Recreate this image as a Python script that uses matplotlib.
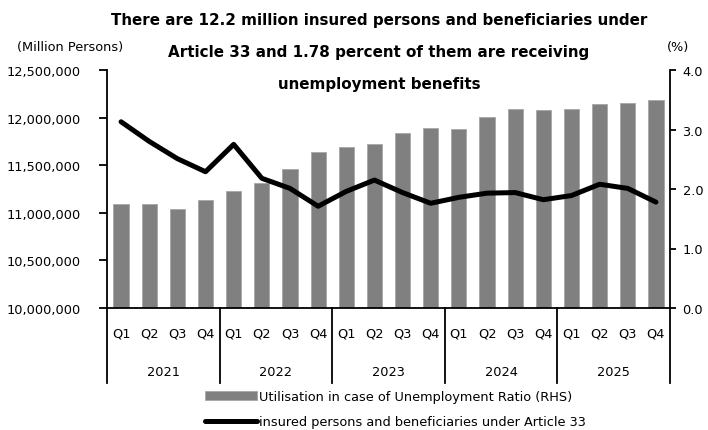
import matplotlib
matplotlib.use("Agg")
import matplotlib.pyplot as plt
from matplotlib.patches import Patch
from matplotlib.lines import Line2D
from matplotlib.transforms import blended_transform_factory

# --- data ---
years = ["2021", "2022", "2023", "2024", "2025"]
quarters = ["Q1", "Q2", "Q3", "Q4"]

insured = [11090000, 11095000, 11035000, 11135000,
           11232000, 11312000, 11460000, 11638000,
           11687000, 11726000, 11838000, 11888000,
           11880000, 12006000, 12094000, 12080000,
           12094000, 12144000, 12158000, 12182000]

ratio = [3.13, 2.80, 2.51, 2.29,
         2.75, 2.18, 2.01, 1.71,
         1.96, 2.15, 1.94, 1.76,
         1.86, 1.93, 1.94, 1.82,
         1.89, 2.08, 2.01, 1.78]

left_ticks = [10000000, 10500000, 11000000, 11500000, 12000000, 12500000]
right_ticks = [0.0, 1.0, 2.0, 3.0, 4.0]

title_lines = ["There are 12.2 million insured persons and beneficiaries under",
               "Article 33 and 1.78 percent of them are receiving",
               "unemployment benefits"]
bar_label = "Utilisation in case of Unemployment Ratio (RHS)"
line_label = "insured persons and beneficiaries under Article 33"

plt.rcParams["font.family"] = "DejaVu Sans"
W, H = 708, 431
fig = plt.figure(figsize=(W / 100, H / 100), dpi=100)

x0, x1, y0, y1 = 107, 670, 71, 309
ax = fig.add_axes([x0 / W, 1 - y1 / H, (x1 - x0) / W, (y1 - y0) / H])
ax2 = ax.twinx()

n = len(insured)
xs = list(range(n))

ax.bar(xs, insured, width=0.54, color="#808080", edgecolor="#a6a6a6",
       linewidth=0.6, zorder=2)
ax2.plot(xs, ratio, color="black", linewidth=3.6, solid_capstyle="round",
         solid_joinstyle="round", zorder=3)

ax.set_xlim(-0.5, n - 0.5)
ax.set_ylim(left_ticks[0], left_ticks[-1])
ax.set_yticks(left_ticks)
ax.set_yticklabels([f"{v:,}" for v in left_ticks])
ax2.set_ylim(right_ticks[0], right_ticks[-1])
ax2.set_yticks(right_ticks)
ax2.set_yticklabels([f"{v:.1f}" for v in right_ticks])

for a in (ax, ax2):
    a.spines["top"].set_visible(False)
    for s in a.spines.values():
        s.set_linewidth(1.3)
ax.tick_params(axis="y", length=6, width=1.3, labelsize=9.3, pad=13)
ax2.tick_params(axis="y", length=4, width=1.3, labelsize=9.3, pad=5)
ax.spines["right"].set_visible(False)
ax2.spines["left"].set_visible(False)
ax2.spines["bottom"].set_visible(False)
ax.set_xticks([])

# multi-level category axis
trans = blended_transform_factory(ax.transData, ax.transAxes)
depth = (384 - y1) / (y1 - y0)
for g in range(len(years) + 1):
    xb = g * len(quarters) - 0.5
    ax.plot([xb, xb], [0, -depth], color="black", linewidth=1.3,
            transform=trans, clip_on=False)
q_y = -(334 - y1) / (y1 - y0)
yr_y = -(373 - y1) / (y1 - y0)
for i in xs:
    ax.text(i, q_y, quarters[i % len(quarters)], transform=trans,
            ha="center", va="center", fontsize=9.3)
for g, yr in enumerate(years):
    ax.text(g * len(quarters) + (len(quarters) - 1) / 2, yr_y, yr,
            transform=trans, ha="center", va="center", fontsize=9.3)

# axis unit labels and title (one text per line)
fig.text(17 / W, 1 - 48 / H, "(Million Persons)", ha="left", va="center",
         fontsize=9.3)
fig.text(667 / W, 1 - 48 / H, "(%)", ha="left", va="center", fontsize=9.3)
for k, line in enumerate(title_lines):
    fig.text(379 / W, 1 - (21 + 32 * k) / H, line, ha="center", va="center",
             fontsize=10.9, fontweight="bold")

handles = [Patch(facecolor="#808080", edgecolor="#a6a6a6", linewidth=0.6),
           Line2D([0], [0], color="black", linewidth=3.6,
                  solid_capstyle="round")]
fig.legend(handles, [bar_label, line_label], loc="center left",
           bbox_to_anchor=(205 / W, 1 - 410 / H), frameon=False,
           fontsize=9.3, handlelength=4.0, handletextpad=0.2,
           labelspacing=0.95, borderpad=0, borderaxespad=0)

fig.savefig("out.png", dpi=100)
